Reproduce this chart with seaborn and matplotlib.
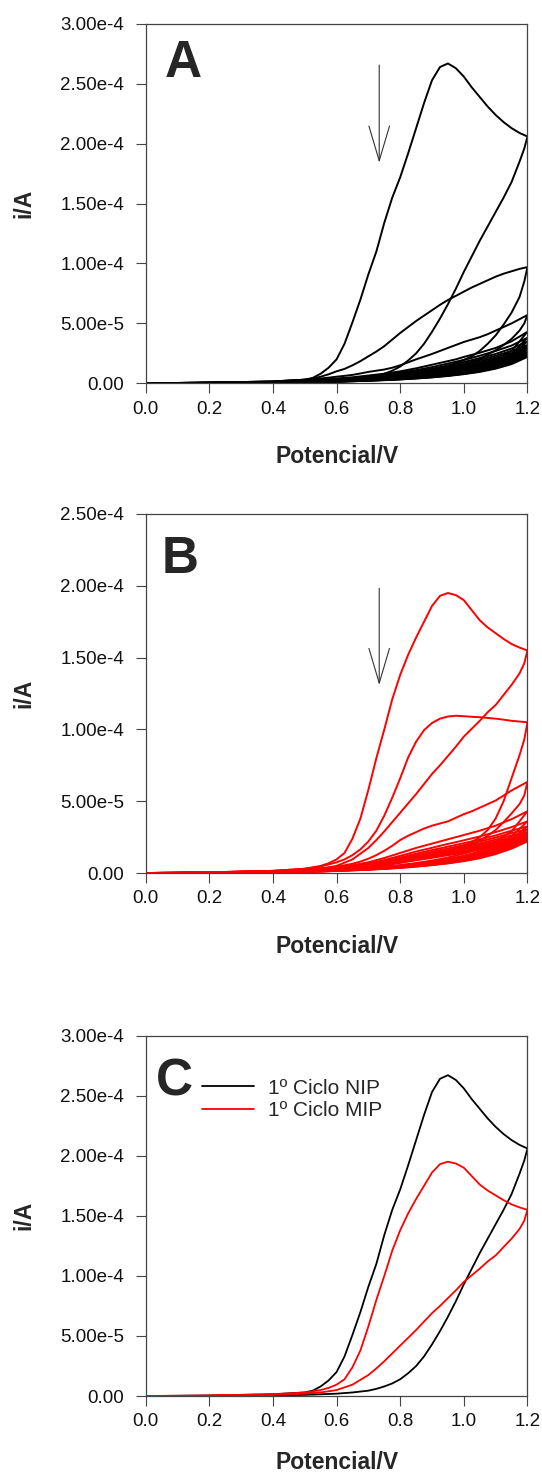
import numpy as np
import pandas as pd
import seaborn as sns
import matplotlib.pyplot as plt
from matplotlib.ticker import FuncFormatter, MultipleLocator

# potential grids (V): fine grid for the first three cycles, coarse for the rest
e_fine_forward = [0.0, 0.2, 0.4, 0.5, 0.525, 0.55, 0.575, 0.6, 0.625, 0.65, 0.675, 0.7,
                  0.725, 0.75, 0.775, 0.8, 0.825, 0.85, 0.875, 0.9, 0.925, 0.95, 0.975,
                  1.0, 1.025, 1.05, 1.075, 1.1, 1.125, 1.15, 1.175, 1.2]
e_fine_reverse = [1.2, 1.19, 1.175, 1.15, 1.125, 1.1, 1.075, 1.05, 1.025, 1.0, 0.975,
                  0.95, 0.925, 0.9, 0.875, 0.85, 0.825, 0.8, 0.775, 0.75, 0.725, 0.7,
                  0.65, 0.6, 0.55, 0.5, 0.4, 0.2, 0.0]
e_forward = [0.0, 0.2, 0.4, 0.5, 0.55, 0.6, 0.65, 0.7, 0.75, 0.8, 0.85, 0.9,
             0.925, 0.95, 0.975, 1.0, 1.05, 1.1, 1.15, 1.2]
e_reverse = [1.2, 1.15, 1.1, 1.05, 1.0, 0.95, 0.9, 0.85, 0.8, 0.75, 0.7, 0.65,
             0.6, 0.5, 0.4, 0.2, 0.0]

# currents in units of 1e-5 A, one row per cycle
nip_forward_early = [
    [0.0, 0.05, 0.15, 0.3, 0.45, 0.8, 1.3, 2.0, 3.3, 5.1, 7.0, 9.1, 11.0, 13.4, 15.5, 17.2,
     19.2, 21.3, 23.4, 25.3, 26.4, 26.7, 26.3, 25.6, 24.7, 23.9, 23.1, 22.4, 21.8, 21.3, 20.9, 20.6],
    [0.0, 0.05, 0.15, 0.3, 0.4, 0.55, 0.75, 1.0, 1.2, 1.5, 1.85, 2.25, 2.65, 3.1, 3.65, 4.2,
     4.7, 5.2, 5.65, 6.1, 6.55, 6.95, 7.3, 7.65, 8.0, 8.3, 8.6, 8.9, 9.15, 9.35, 9.55, 9.7],
    [0.0, 0.05, 0.15, 0.3, 0.35, 0.4, 0.47, 0.55, 0.62, 0.7, 0.82, 0.95, 1.05, 1.15, 1.3, 1.5,
     1.75, 2.0, 2.22, 2.45, 2.7, 2.95, 3.2, 3.45, 3.65, 3.85, 4.1, 4.4, 4.7, 5.0, 5.35, 5.7],
]
nip_reverse_early = [
    [20.6, 19.6, 18.5, 16.8, 15.5, 14.3, 13.1, 11.9, 10.6, 9.3, 7.9, 6.6, 5.4, 4.3, 3.3,
     2.5, 1.9, 1.4, 1.05, 0.8, 0.6, 0.45, 0.3, 0.2, 0.15, 0.1, 0.05, 0.0, -0.05],
    [9.7, 8.5, 7.2, 5.9, 4.9, 4.0, 3.3, 2.7, 2.25, 1.95, 1.7, 1.45, 1.2, 1.0, 0.9,
     0.8, 0.7, 0.6, 0.52, 0.45, 0.4, 0.35, 0.25, 0.2, 0.15, 0.1, 0.05, 0.0, -0.05],
    [5.7, 5.0, 4.4, 3.7, 3.2, 2.75, 2.4, 2.05, 1.8, 1.6, 1.4, 1.2, 1.07, 0.95, 0.85,
     0.75, 0.65, 0.55, 0.5, 0.45, 0.4, 0.35, 0.25, 0.2, 0.15, 0.1, 0.05, 0.0, -0.05],
]
nip_forward_late = [
    [0.0, 0.05, 0.12, 0.22, 0.3, 0.4, 0.5, 0.65, 0.8, 1.0, 1.25, 1.55, 1.7, 1.85, 2.0, 2.2, 2.55, 2.95, 3.5, 4.3],
    [0.0, 0.05, 0.12, 0.2, 0.27, 0.35, 0.45, 0.58, 0.72, 0.9, 1.1, 1.35, 1.5, 1.65, 1.8, 1.95, 2.3, 2.7, 3.15, 3.8],
    [0.0, 0.05, 0.1, 0.18, 0.25, 0.32, 0.42, 0.52, 0.65, 0.82, 1.0, 1.22, 1.35, 1.5, 1.62, 1.78, 2.1, 2.45, 2.9, 3.5],
    [-0.02, 0.04, 0.1, 0.17, 0.23, 0.3, 0.38, 0.48, 0.6, 0.75, 0.92, 1.12, 1.24, 1.37, 1.5, 1.64, 1.95, 2.3, 2.7, 3.2],
    [-0.02, 0.04, 0.1, 0.16, 0.22, 0.28, 0.35, 0.45, 0.56, 0.7, 0.86, 1.04, 1.15, 1.28, 1.4, 1.53, 1.82, 2.15, 2.52, 3.0],
    [-0.03, 0.03, 0.09, 0.15, 0.2, 0.26, 0.33, 0.42, 0.52, 0.65, 0.8, 0.97, 1.07, 1.19, 1.31, 1.43, 1.7, 2.0, 2.36, 2.8],
    [-0.03, 0.03, 0.08, 0.14, 0.19, 0.25, 0.31, 0.39, 0.49, 0.61, 0.75, 0.91, 1.0, 1.11, 1.22, 1.34, 1.6, 1.88, 2.22, 2.6],
    [-0.03, 0.03, 0.08, 0.13, 0.18, 0.23, 0.29, 0.37, 0.46, 0.57, 0.7, 0.85, 0.94, 1.04, 1.15, 1.26, 1.5, 1.77, 2.1, 2.45],
    [-0.04, 0.02, 0.07, 0.12, 0.17, 0.22, 0.28, 0.35, 0.43, 0.54, 0.66, 0.8, 0.89, 0.98, 1.08, 1.19, 1.42, 1.68, 1.98, 2.3],
    [-0.04, 0.02, 0.07, 0.12, 0.16, 0.21, 0.26, 0.33, 0.41, 0.51, 0.62, 0.76, 0.84, 0.93, 1.02, 1.12, 1.34, 1.59, 1.88, 2.2],
]
nip_reverse_late = [
    [4.3, 2.7, 2.05, 1.6, 1.25, 1.0, 0.8, 0.62, 0.5, 0.4, 0.32, 0.25, 0.2, 0.1, 0.05, 0.0, -0.05],
    [3.8, 2.45, 1.85, 1.45, 1.15, 0.92, 0.74, 0.58, 0.47, 0.38, 0.3, 0.24, 0.19, 0.1, 0.04, 0.0, -0.05],
    [3.5, 2.3, 1.75, 1.35, 1.07, 0.86, 0.69, 0.55, 0.44, 0.36, 0.29, 0.23, 0.18, 0.1, 0.04, -0.01, -0.06],
    [3.2, 2.15, 1.65, 1.27, 1.0, 0.8, 0.65, 0.52, 0.42, 0.34, 0.27, 0.22, 0.17, 0.09, 0.03, -0.01, -0.06],
    [3.0, 2.05, 1.55, 1.2, 0.95, 0.76, 0.61, 0.49, 0.4, 0.32, 0.26, 0.21, 0.16, 0.08, 0.03, -0.02, -0.07],
    [2.8, 1.95, 1.48, 1.14, 0.9, 0.72, 0.58, 0.47, 0.38, 0.3, 0.25, 0.2, 0.15, 0.08, 0.02, -0.02, -0.07],
    [2.6, 1.85, 1.4, 1.08, 0.86, 0.69, 0.55, 0.45, 0.36, 0.29, 0.24, 0.19, 0.15, 0.07, 0.02, -0.02, -0.07],
    [2.45, 1.76, 1.34, 1.04, 0.82, 0.66, 0.53, 0.43, 0.35, 0.28, 0.23, 0.18, 0.14, 0.07, 0.02, -0.03, -0.08],
    [2.3, 1.68, 1.28, 0.99, 0.79, 0.63, 0.51, 0.41, 0.33, 0.27, 0.22, 0.17, 0.13, 0.06, 0.01, -0.03, -0.08],
    [2.2, 1.6, 1.22, 0.95, 0.76, 0.61, 0.49, 0.4, 0.32, 0.26, 0.21, 0.17, 0.13, 0.06, 0.01, -0.03, -0.08],
]

mip_forward_early = [
    [0.0, 0.05, 0.15, 0.3, 0.4, 0.5, 0.68, 0.95, 1.4, 2.4, 3.8, 5.8, 8.0, 10.0, 12.1, 13.8,
     15.2, 16.4, 17.5, 18.6, 19.3, 19.5, 19.35, 19.0, 18.3, 17.6, 17.1, 16.7, 16.3, 15.95, 15.7, 15.5],
    [0.0, 0.05, 0.15, 0.3, 0.37, 0.45, 0.6, 0.75, 0.95, 1.25, 1.65, 2.2, 2.95, 4.0, 5.25, 6.6,
     8.05, 9.15, 9.95, 10.45, 10.75, 10.9, 10.95, 10.92, 10.88, 10.85, 10.8, 10.75, 10.68, 10.6, 10.55, 10.5],
    [0.0, 0.05, 0.15, 0.25, 0.29, 0.33, 0.39, 0.45, 0.54, 0.65, 0.8, 1.0, 1.25, 1.55, 1.9, 2.3,
     2.6, 2.85, 3.1, 3.3, 3.45, 3.6, 3.85, 4.1, 4.3, 4.55, 4.8, 5.05, 5.4, 5.75, 6.05, 6.35],
]
mip_reverse_early = [
    [15.5, 14.6, 13.9, 13.1, 12.4, 11.7, 11.2, 10.6, 10.05, 9.5, 8.8, 8.15, 7.5, 6.9, 6.2,
     5.5, 4.85, 4.2, 3.55, 2.9, 2.3, 1.75, 0.95, 0.5, 0.3, 0.2, 0.1, 0.02, -0.02],
    [10.5, 9.3, 8.2, 6.6, 5.0, 3.8, 3.0, 2.5, 2.15, 1.9, 1.72, 1.55, 1.4, 1.25, 1.12,
     1.0, 0.9, 0.8, 0.7, 0.6, 0.52, 0.45, 0.35, 0.28, 0.2, 0.15, 0.08, 0.02, -0.02],
    [6.35, 5.4, 4.8, 4.15, 3.55, 3.0, 2.6, 2.25, 2.0, 1.8, 1.65, 1.5, 1.35, 1.2, 1.07,
     0.95, 0.85, 0.75, 0.66, 0.58, 0.51, 0.45, 0.35, 0.27, 0.2, 0.15, 0.07, 0.02, -0.02],
]
mip_forward_late = [
    [0.0, 0.05, 0.13, 0.23, 0.3, 0.4, 0.55, 0.75, 1.05, 1.4, 1.75, 2.05, 2.2, 2.35, 2.5, 2.65, 2.95, 3.3, 3.75, 4.3],
    [0.0, 0.05, 0.12, 0.21, 0.28, 0.37, 0.5, 0.67, 0.9, 1.2, 1.5, 1.76, 1.9, 2.03, 2.15, 2.28, 2.55, 2.85, 3.2, 3.6],
    [0.0, 0.05, 0.11, 0.2, 0.26, 0.34, 0.46, 0.61, 0.82, 1.08, 1.35, 1.6, 1.72, 1.84, 1.96, 2.08, 2.34, 2.62, 2.95, 3.25],
    [-0.02, 0.04, 0.1, 0.18, 0.24, 0.32, 0.43, 0.57, 0.76, 1.0, 1.25, 1.48, 1.6, 1.71, 1.83, 1.95, 2.2, 2.47, 2.78, 3.05],
    [-0.02, 0.04, 0.1, 0.17, 0.23, 0.3, 0.4, 0.53, 0.71, 0.93, 1.16, 1.38, 1.49, 1.6, 1.71, 1.83, 2.07, 2.33, 2.62, 2.85],
    [-0.03, 0.03, 0.09, 0.16, 0.22, 0.29, 0.38, 0.5, 0.67, 0.87, 1.09, 1.3, 1.4, 1.51, 1.62, 1.73, 1.96, 2.21, 2.48, 2.7],
    [-0.03, 0.03, 0.08, 0.15, 0.21, 0.27, 0.36, 0.48, 0.63, 0.82, 1.03, 1.23, 1.33, 1.43, 1.53, 1.64, 1.86, 2.1, 2.36, 2.55],
    [-0.03, 0.03, 0.08, 0.14, 0.2, 0.26, 0.34, 0.45, 0.6, 0.78, 0.98, 1.17, 1.26, 1.36, 1.46, 1.56, 1.77, 2.0, 2.25, 2.4],
    [-0.04, 0.02, 0.07, 0.13, 0.19, 0.25, 0.33, 0.43, 0.57, 0.74, 0.93, 1.11, 1.2, 1.3, 1.39, 1.49, 1.69, 1.91, 2.15, 2.3],
    [-0.04, 0.02, 0.07, 0.13, 0.18, 0.24, 0.31, 0.41, 0.54, 0.71, 0.89, 1.06, 1.15, 1.24, 1.33, 1.43, 1.62, 1.83, 2.06, 2.2],
]
mip_reverse_late = [
    [4.3, 2.9, 2.2, 1.7, 1.35, 1.08, 0.87, 0.7, 0.56, 0.45, 0.36, 0.28, 0.22, 0.12, 0.06, 0.01, -0.03],
    [3.6, 2.55, 1.95, 1.52, 1.21, 0.97, 0.79, 0.64, 0.52, 0.42, 0.33, 0.26, 0.21, 0.11, 0.05, 0.0, -0.04],
    [3.25, 2.35, 1.8, 1.42, 1.13, 0.91, 0.74, 0.6, 0.49, 0.39, 0.31, 0.25, 0.2, 0.1, 0.05, 0.0, -0.04],
    [3.05, 2.22, 1.7, 1.34, 1.07, 0.86, 0.7, 0.57, 0.46, 0.37, 0.3, 0.24, 0.19, 0.1, 0.04, -0.01, -0.05],
    [2.85, 2.1, 1.62, 1.27, 1.01, 0.82, 0.67, 0.54, 0.44, 0.35, 0.28, 0.23, 0.18, 0.09, 0.04, -0.01, -0.05],
    [2.7, 2.0, 1.55, 1.21, 0.97, 0.78, 0.64, 0.52, 0.42, 0.34, 0.27, 0.22, 0.17, 0.09, 0.03, -0.01, -0.05],
    [2.55, 1.92, 1.48, 1.16, 0.93, 0.75, 0.61, 0.5, 0.4, 0.32, 0.26, 0.21, 0.16, 0.08, 0.03, -0.02, -0.06],
    [2.4, 1.84, 1.42, 1.11, 0.89, 0.72, 0.59, 0.48, 0.39, 0.31, 0.25, 0.2, 0.16, 0.08, 0.03, -0.02, -0.06],
    [2.3, 1.77, 1.37, 1.07, 0.86, 0.7, 0.57, 0.46, 0.37, 0.3, 0.24, 0.19, 0.15, 0.07, 0.02, -0.02, -0.06],
    [2.2, 1.7, 1.32, 1.03, 0.83, 0.67, 0.55, 0.45, 0.36, 0.29, 0.23, 0.19, 0.15, 0.07, 0.02, -0.02, -0.06],
]

legend_labels = ['1º Ciclo NIP', '1º Ciclo MIP']


def cycles_frame(label, groups):
    rows = []
    k = 0
    for e_f, e_r, fwd, rev in groups:
        for f, r in zip(fwd, rev):
            assert len(f) == len(e_f) and len(r) == len(e_r)
            for e, i in list(zip(e_f, f)) + list(zip(e_r, r)):
                rows.append((f'{label}{k}', label, e, i * 1e-5))
            k += 1
    return pd.DataFrame(rows, columns=['trace', 'sample', 'E', 'i'])


df_nip = cycles_frame(legend_labels[0], [
    (e_fine_forward, e_fine_reverse, nip_forward_early, nip_reverse_early),
    (e_forward, e_reverse, nip_forward_late, nip_reverse_late)])
df_mip = cycles_frame(legend_labels[1], [
    (e_fine_forward, e_fine_reverse, mip_forward_early, mip_reverse_early),
    (e_forward, e_reverse, mip_forward_late, mip_reverse_late)])
df_first = pd.concat([df_nip[df_nip['trace'] == legend_labels[0] + '0'],
                      df_mip[df_mip['trace'] == legend_labels[1] + '0']])

sns.set_style('ticks')
plt.rcParams['font.family'] = ['Liberation Sans', 'DejaVu Sans']
plt.rcParams['lines.solid_joinstyle'] = 'round'


def sci_fmt(v, pos):
    if abs(v) < 1e-12:
        return '0.00'
    m, e = f'{v:.2e}'.split('e')
    return f'{m}e{int(e)}'


def style_axes(ax, ymax, letter, letter_x, letter_y, xpad=20):
    ax.set_xlim(0, 1.2)
    ax.set_ylim(0, ymax)
    ax.xaxis.set_major_locator(MultipleLocator(0.2))
    ax.xaxis.set_major_formatter(FuncFormatter(lambda v, p: f'{v:.1f}'))
    ax.yaxis.set_major_locator(MultipleLocator(5e-5))
    ax.yaxis.set_major_formatter(FuncFormatter(sci_fmt))
    for s in ax.spines.values():
        s.set_color('#444444')
        s.set_linewidth(0.9)
    ax.tick_params(axis='both', direction='out', length=7.5, width=0.8,
                   color='#444444', labelsize=13.5, labelcolor='#111111')
    ax.tick_params(axis='x', pad=5)
    ax.tick_params(axis='y', pad=8)
    ax.set_xlabel('Potencial/V', fontsize=16.5, fontweight='bold', labelpad=xpad)
    ax.set_ylabel('i/A', fontsize=16.5, fontweight='bold', labelpad=18)
    ax.text(letter_x, letter_y, letter, transform=ax.transAxes, fontsize=37,
            fontweight='bold', ha='left', va='baseline')


def add_arrow(ax, x, y_top, y_tip):
    ax.annotate('', xy=(x, y_tip), xytext=(x, y_top),
                arrowprops=dict(arrowstyle='->, head_length=25, head_width=7.4',
                                mutation_scale=1, lw=0.8, color='#333333',
                                shrinkA=0, shrinkB=0))


fig = plt.figure(figsize=(5.42, 14.77), dpi=100)
ax_a = fig.add_axes([0.2688, 0.7405, 0.7044, 0.2433])
ax_b = fig.add_axes([0.2688, 0.4089, 0.7044, 0.2431])
ax_c = fig.add_axes([0.2688, 0.0548, 0.7044, 0.2441])

sns.lineplot(data=df_nip, x='E', y='i', units='trace', estimator=None, sort=False,
             color='black', lw=1.4, ax=ax_a)
style_axes(ax_a, 3e-4, 'A', 0.051, 0.852)
add_arrow(ax_a, 0.734, 2.657e-4, 1.841e-4)

sns.lineplot(data=df_mip, x='E', y='i', units='trace', estimator=None, sort=False,
             color='red', lw=1.4, ax=ax_b)
style_axes(ax_b, 2.5e-4, 'B', 0.041, 0.836)
add_arrow(ax_b, 0.734, 1.983e-4, 1.309e-4)

sns.lineplot(data=df_first, x='E', y='i', hue='sample', estimator=None, sort=False,
             palette={legend_labels[0]: 'black', legend_labels[1]: 'red'},
             lw=1.3, ax=ax_c)
style_axes(ax_c, 3e-4, 'C', 0.026, 0.835, xpad=15)
handles, labels = ax_c.get_legend_handles_labels()
ax_c.legend(handles, labels, loc='upper left', bbox_to_anchor=(0.148, 0.88),
            frameon=False, fontsize=15, handlelength=2.5, handletextpad=0.66,
            labelspacing=0.15, borderpad=0, borderaxespad=0)

fig.savefig('out.png', dpi=100)
